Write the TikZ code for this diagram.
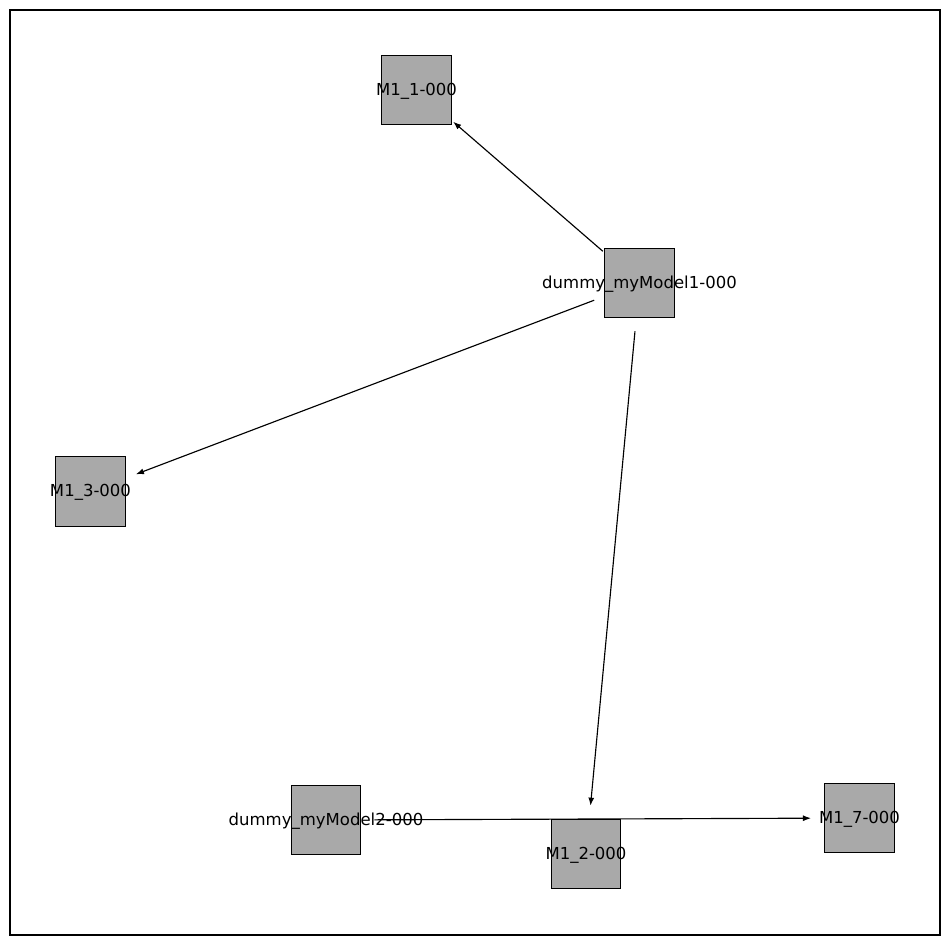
\documentclass[tikz,border=0pt]{standalone}
\usepackage{fontspec}
\setmainfont{DejaVu Sans}
\usetikzlibrary{arrows.meta}
\definecolor{nodegray}{RGB}{169,169,169}

\begin{document}
\begin{tikzpicture}[x=0.02cm, y=-0.02cm,
  box/.style={draw, fill=nodegray, line width=0.6pt, minimum size=39.4pt, inner sep=0pt},
  lbl/.style={font=\fontsize{9.4}{11}\selectfont, inner sep=0pt, yshift=-0.6pt},
  arr/.style={-{Latex[length=4.6pt, width=3.4pt]}, line width=0.65pt, shorten <=0.97cm, shorten >=0.97cm}]
\useasboundingbox (0,0) rectangle (950,944);
\draw[line width=0.6pt] (10,10) rectangle (940,935);
\node[box, label={[lbl]center:M1\_1-000}] (m1) at (416.5,90) {};
\node[box, label={[lbl]center:dummy\_myModel1-000}] (dm1) at (639.5,283) {};
\node[box, label={[lbl]center:M1\_3-000}] (m3) at (90.5,491.5) {};
\node[box, label={[lbl]center:dummy\_myModel2-000}] (dm2) at (326,820) {};
\node[box, label={[lbl]center:M1\_2-000}] (m2) at (586,854) {};
\node[box, label={[lbl]center:M1\_7-000}] (m7) at (859.5,818) {};
\draw[arr] (dm1.center) -- (m1.center);
\draw[arr] (dm1.center) -- (m3.center);
\draw[arr] (dm1.center) -- (m2.center);
\draw[arr] (dm2.center) -- (m7.center);
\end{tikzpicture}
\end{document}
